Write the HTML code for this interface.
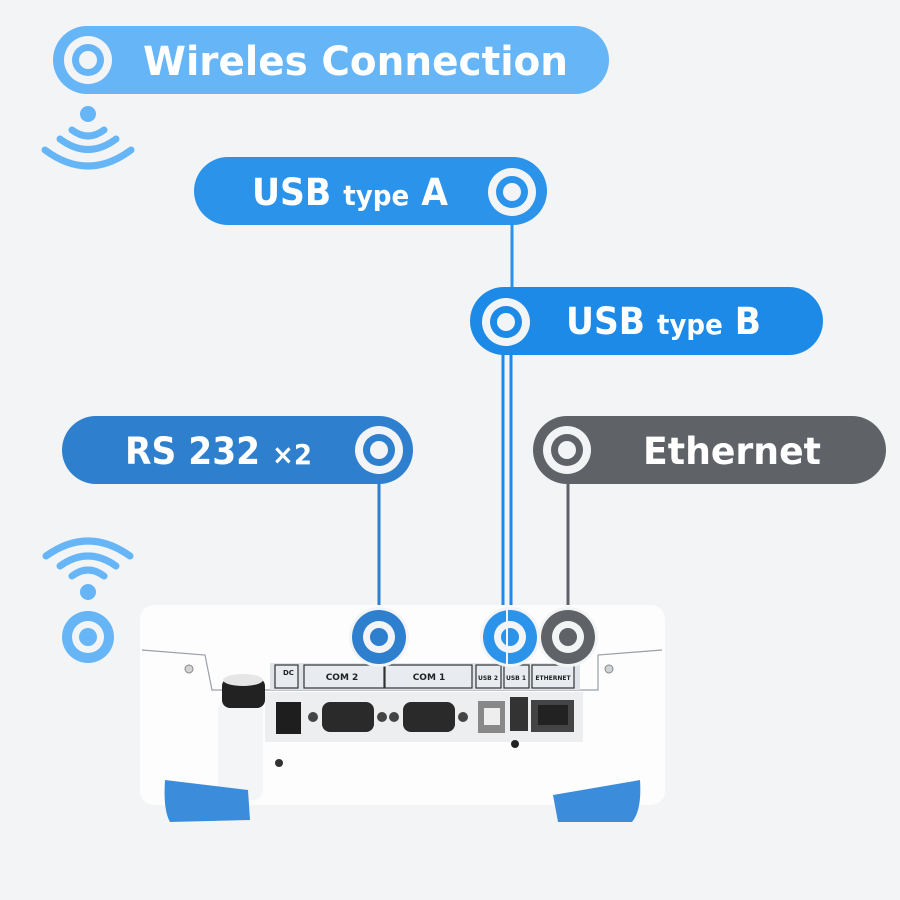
<!DOCTYPE html>
<html><head><meta charset="utf-8"><style>
html,body{margin:0;padding:0;background:#f3f4f6;}
svg{display:block;}
text{font-family:"DejaVu Sans","Liberation Sans",sans-serif;font-weight:bold;fill:#fff;}
</style></head><body>
<svg width="900" height="900" viewBox="0 0 900 900" xmlns="http://www.w3.org/2000/svg">
<rect width="900" height="900" fill="#f3f4f6"/>
<line x1="512" y1="220" x2="512" y2="295" stroke="#2b93ea" stroke-width="3"/>
<line x1="503" y1="350" x2="503" y2="640" stroke="#1e8ae8" stroke-width="3"/>
<line x1="511" y1="350" x2="511" y2="640" stroke="#1e8ae8" stroke-width="3"/>
<line x1="379" y1="480" x2="379" y2="630" stroke="#2f7fcf" stroke-width="3"/>
<line x1="568" y1="480" x2="568" y2="630" stroke="#5f6368" stroke-width="3"/>

<rect x="53" y="26" width="556" height="68" rx="34" fill="#66b5f7"/>
<g><circle cx="88" cy="60" r="24" fill="#f3f4f6"/><circle cx="88" cy="60" r="16" fill="#66b5f7"/><circle cx="88" cy="60" r="9" fill="#f3f4f6"/></g>
<text x="143" y="75" font-size="40" textLength="425" lengthAdjust="spacingAndGlyphs">Wireles Connection</text>

<rect x="194" y="157" width="353" height="68" rx="34" fill="#2b93ea"/>
<g><circle cx="512" cy="192" r="24" fill="#f3f4f6"/><circle cx="512" cy="192" r="16" fill="#2b93ea"/><circle cx="512" cy="192" r="9" fill="#f3f4f6"/></g>
<text x="252" y="205" font-size="37" textLength="196" lengthAdjust="spacingAndGlyphs">USB <tspan font-size="28">type</tspan> A</text>

<rect x="470" y="287" width="353" height="68" rx="34" fill="#1e8ae8"/>
<g><circle cx="506" cy="322" r="24" fill="#f3f4f6"/><circle cx="506" cy="322" r="16" fill="#1e8ae8"/><circle cx="506" cy="322" r="9" fill="#f3f4f6"/></g>
<text x="566" y="334" font-size="37" textLength="195" lengthAdjust="spacingAndGlyphs">USB <tspan font-size="28">type</tspan> B</text>

<rect x="62" y="416" width="351" height="68" rx="34" fill="#2f7fcf"/>
<g><circle cx="379" cy="450" r="24" fill="#f3f4f6"/><circle cx="379" cy="450" r="16" fill="#2f7fcf"/><circle cx="379" cy="450" r="9" fill="#f3f4f6"/></g>
<text x="125" y="464" font-size="37" textLength="187" lengthAdjust="spacingAndGlyphs">RS 232 <tspan font-size="28">×2</tspan></text>

<rect x="533" y="416" width="353" height="68" rx="34" fill="#5f6368"/>
<g><circle cx="567" cy="450" r="24" fill="#f3f4f6"/><circle cx="567" cy="450" r="16" fill="#5f6368"/><circle cx="567" cy="450" r="9" fill="#f3f4f6"/></g>
<text x="643" y="464" font-size="37" textLength="178" lengthAdjust="spacingAndGlyphs">Ethernet</text>

<g fill="none" stroke="#66b5f7" stroke-width="7" stroke-linecap="round">
<circle cx="88" cy="114" r="8" fill="#66b5f7" stroke="none"/>
<path d="M72 130 Q88 142 104 130"/>
<path d="M60 139 Q88 160 116 139"/>
<path d="M45 150 Q88 182 131 150"/>
<circle cx="88" cy="592" r="8" fill="#66b5f7" stroke="none"/>
<path d="M72 576 Q88 564 104 576"/>
<path d="M60 566 Q88 546 116 566"/>
<path d="M46 556 Q88 526 130 556"/>
</g>
<g><circle cx="88" cy="637" r="26" fill="#66b5f7"/><circle cx="88" cy="637" r="16" fill="#f3f4f6"/><circle cx="88" cy="637" r="9" fill="#66b5f7"/></g>

<rect x="140" y="605" width="525" height="200" rx="14" fill="#fdfdfd"/>
<path d="M142 650 L205 655 L212 690 L598 690 L598 655 L662 650" fill="none" stroke="#9aa0a6" stroke-width="1.2"/>
<circle cx="189" cy="669" r="4" fill="#cfd3d6" stroke="#888" stroke-width="1"/>
<circle cx="609" cy="669" r="4" fill="#cfd3d6" stroke="#888" stroke-width="1"/>
<rect x="270" y="663" width="310" height="27" fill="#dfe4ea"/>
<g fill="#e8ecf0" stroke="#333" stroke-width="1.2">
<rect x="275" y="665" width="23" height="23"/>
<rect x="304" y="665" width="80" height="23"/>
<rect x="385" y="665" width="87" height="23"/>
<rect x="476" y="665" width="25" height="23"/>
<rect x="504" y="665" width="25" height="23"/>
<rect x="532" y="665" width="42" height="23"/>
</g>
<g font-family="Liberation Sans" font-size="9">
<text x="342" y="680" text-anchor="middle" style="fill:#222">COM 2</text>
<text x="429" y="680" text-anchor="middle" style="fill:#222">COM 1</text>
<text x="283" y="675" font-size="7" style="fill:#222">DC</text>
<text x="488" y="680" text-anchor="middle" font-size="6" style="fill:#222">USB 2</text>
<text x="516" y="680" text-anchor="middle" font-size="6" style="fill:#222">USB 1</text>
<text x="553" y="680" text-anchor="middle" font-size="6" style="fill:#222">ETHERNET</text>
</g>
<rect x="265" y="692" width="318" height="50" fill="#eceef0"/>
<rect x="276" y="702" width="25" height="32" fill="#1e1e1e"/>
<rect x="322" y="702" width="52" height="30" rx="8" fill="#2a2a2a"/>
<rect x="403" y="702" width="52" height="30" rx="8" fill="#2a2a2a"/>
<circle cx="313" cy="717" r="5" fill="#444"/><circle cx="382" cy="717" r="5" fill="#444"/>
<circle cx="394" cy="717" r="5" fill="#444"/><circle cx="463" cy="717" r="5" fill="#444"/>
<rect x="478" y="701" width="27" height="32" fill="#888"/><rect x="484" y="708" width="16" height="17" fill="#eee"/>
<rect x="510" y="697" width="18" height="34" fill="#333"/>
<rect x="531" y="700" width="43" height="32" fill="#444"/><rect x="538" y="705" width="30" height="20" fill="#222"/>
<circle cx="515" cy="744" r="4" fill="#222"/>
<circle cx="279" cy="763" r="4" fill="#333"/>
<rect x="218" y="700" width="45" height="100" rx="10" fill="#f4f5f6"/>
<rect x="222" y="678" width="43" height="30" rx="8" fill="#222"/>
<ellipse cx="243" cy="680" rx="20" ry="6" fill="#e6e6e6"/>
<path d="M165 780 L248 790 L250 820 L170 822 Q163 810 165 780Z" fill="#3b8ddb"/>
<path d="M553 795 L640 780 Q642 810 632 822 L558 822Z" fill="#3b8ddb"/>

<g><circle cx="379" cy="637" r="30" fill="#f3f4f6"/><circle cx="379" cy="637" r="27" fill="#2f7fcf"/><circle cx="379" cy="637" r="16" fill="#f3f4f6"/><circle cx="379" cy="637" r="9" fill="#2f7fcf"/></g>
<g><circle cx="510" cy="637" r="30" fill="#f3f4f6"/><circle cx="510" cy="637" r="27" fill="#2b93ea"/><circle cx="510" cy="637" r="16" fill="#f3f4f6"/><circle cx="510" cy="637" r="9" fill="#2b93ea"/></g>
<line x1="507" y1="610" x2="507" y2="665" stroke="#f3f4f6" stroke-width="2"/>
<g><circle cx="568" cy="637" r="30" fill="#f3f4f6"/><circle cx="568" cy="637" r="27" fill="#5f6368"/><circle cx="568" cy="637" r="16" fill="#f3f4f6"/><circle cx="568" cy="637" r="9" fill="#5f6368"/></g>
</svg>
</body></html>
